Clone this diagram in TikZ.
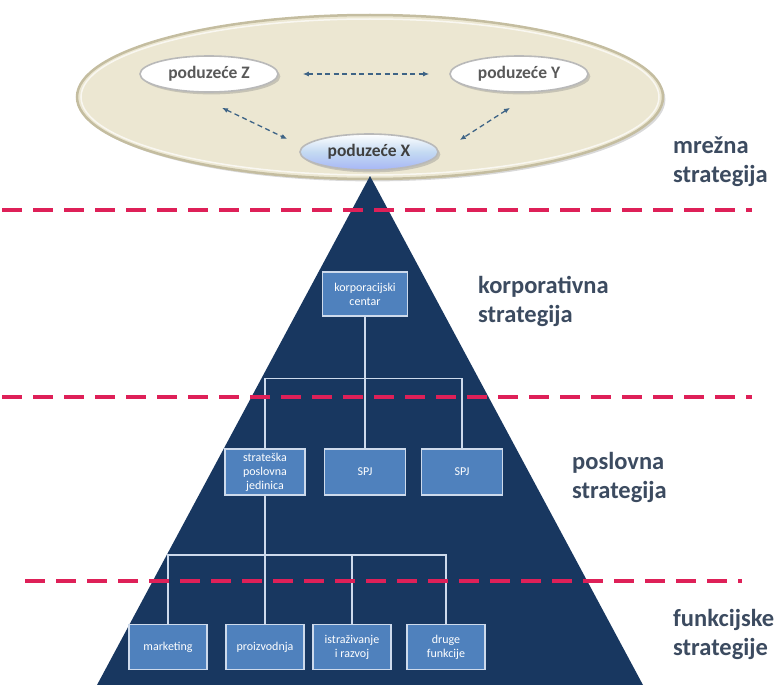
\documentclass[tikz,border=0pt]{standalone}
\usepackage{fontspec}
\setmainfont{Carlito}
\usepackage{tikz}
\usetikzlibrary{arrows.meta}
\usetikzlibrary{shapes.geometric}
\usetikzlibrary{shadows}
\definecolor{pyramidColor}{RGB}{24,55,96}
\definecolor{unitColor}{RGB}{79,129,189}
\definecolor{unitLineColor}{RGB}{205,218,236}
\definecolor{cutColor}{RGB}{222,32,88}
\definecolor{netColor}{RGB}{236,231,210}
\definecolor{netRimColor}{RGB}{196,189,160}
\definecolor{linkColor}{RGB}{62,100,134}
\definecolor{labelColor}{RGB}{60,75,96}
\definecolor{focusFill}{RGB}{196,218,242}

\begin{document}
\begin{tikzpicture}[x=1pt, y=-1pt]

            \tikzstyle{companyNode} = [shape = ellipse, draw=gray!55, line width=1.6pt, fill=white, minimum width=138pt, minimum height=36pt, inner sep=0pt, text=gray!70!black, font=\bfseries\fontsize{17.5}{17.5}\selectfont, drop shadow={opacity=0.35}];
            \tikzstyle{focusCompany} = [companyNode, top color=white, bottom color=focusFill!80!blue!90, middle color=focusFill, text=black!75];
            \tikzstyle{netLink} = [linkColor, line width=1.3pt, dash pattern=on 5pt off 3.5pt, {Latex[length=6pt,width=5pt]}-{Latex[length=6pt,width=5pt]}];
            \tikzstyle{unitBox} = [draw=unitLineColor, line width=1.1pt, fill=unitColor, text=white, align=center, inner sep=1pt, font=\fontsize{12}{14}\selectfont];
            \tikzstyle{orgEdge} = [unitLineColor, line width=1.2pt];
            \tikzstyle{levelCut} = [cutColor, line width=4pt, dash pattern=on 20pt off 11pt];
            \tikzstyle{levelLabel} = [anchor=base west, align=left, inner sep=0pt, text=labelColor, font=\bfseries\fontsize{24.5}{29}\selectfont];

            \useasboundingbox (0,0) rectangle (776,685);

            % network level
            \draw[netRimColor, line width=2.5pt, fill=netColor, drop shadow={opacity=0.3}] (370,97) ellipse [x radius=293pt, y radius=82pt];
            \draw[white, line width=1.5pt, opacity=0.7] (370,97) ellipse [x radius=289pt, y radius=78pt];

            % pyramid
            \fill[pyramidColor] (370,176) -- (643,685) -- (97,685) -- cycle;

            \node[companyNode] (compZ) at (209,74) {poduzeće Z};
            \node[companyNode] (compY) at (519,74) {poduzeće Y};
            \node[focusCompany] (compX) at (369,152) {poduzeće X};

            \draw[netLink, shorten <=24pt, shorten >=20pt] (compZ.east) -- (compY.west);
            \draw[netLink] ([xshift=13pt, yshift=-15pt]compZ.south) -- ([xshift=-12pt, yshift=13pt]compX.west);
            \draw[netLink] ([xshift=-9pt, yshift=-15pt]compY.south) -- ([xshift=21pt, yshift=12pt]compX.east);

            % organisation
            \node[unitBox, minimum width=85pt, minimum height=44pt] (centar) at (365,294) {korporacijski\\centar};

            \node[unitBox, minimum width=80pt, minimum height=46pt] (jedinica) at (265,472) {strateška\\poslovna\\jedinica};
            \node[unitBox, minimum width=81pt, minimum height=46pt] (spjA) at (365,472) {SPJ};
            \node[unitBox, minimum width=81pt, minimum height=46pt] (spjB) at (462,472) {SPJ};

            \node[unitBox, minimum width=78pt, minimum height=45pt] (marketing) at (168,647) {marketing};
            \node[unitBox, minimum width=78pt, minimum height=45pt] (proizvodnja) at (265,647) {proizvodnja};
            \node[unitBox, minimum width=78pt, minimum height=45pt] (razvoj) at (352,647) {istraživanje\\i razvoj};
            \node[unitBox, minimum width=78pt, minimum height=45pt] (druge) at (446,647) {druge\\funkcije};

            \draw[orgEdge] (centar.south) -- ++(0,62) -| (jedinica.north);
            \draw[orgEdge] (centar.south) -- (spjA.north);
            \draw[orgEdge] (centar.south) -- ++(0,62) -| (spjB.north);

            \draw[orgEdge] (jedinica.south) -- ++(0,59.5) -| (marketing.north);
            \draw[orgEdge] (jedinica.south) -- (proizvodnja.north);
            \draw[orgEdge] (jedinica.south) -- ++(0,59.5) -| (razvoj.north);
            \draw[orgEdge] (jedinica.south) -- ++(0,59.5) -| (druge.north);

            % levels
            \draw[levelCut] (2,210) -- (752,210);
            \draw[levelCut] (2,397) -- (752,397);
            \draw[levelCut] (25,581) -- (742,581);

            \node[levelLabel] (netLabel) at (673,182) {mrežna\\strategija};
            \node[levelLabel] (corpLabel) at (478,322) {korporativna\\strategija};
            \node[levelLabel] (bizLabel) at (572,498) {poslovna\\strategija};
            \node[levelLabel] (funcLabel) at (673,655) {funkcijske\\strategije};
          \end{tikzpicture}
\end{document}
